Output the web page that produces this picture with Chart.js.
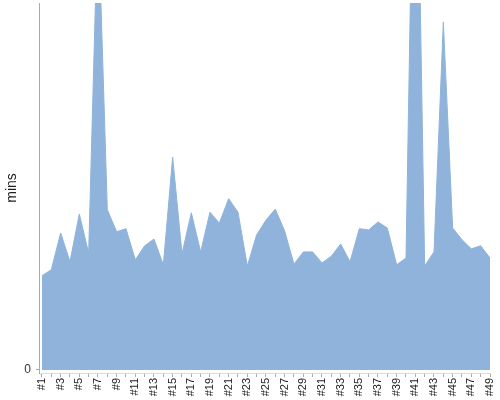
<!DOCTYPE html>
<html>
<head>
<meta charset="utf-8">
<script src="https://cdn.jsdelivr.net/npm/chart.js@4/dist/chart.umd.min.js"></script>
<style>
  html, body { margin: 0; padding: 0; background: #fff; }
  #wrap { width: 500px; height: 400px; }
</style>
</head>
<body>
<div id="wrap"><canvas id="chart" width="500" height="400"></canvas></div>
<script>
const runLabels = [];
for (let i = 1; i <= 49; i++) runLabels.push('#' + i);

// minutes per run (two spikes go past the top)
const mins = [
  15.4, 16.4, 22.4, 17.7, 25.5, 19.1, 75.5, 26.2, 22.6, 23.1,
  18.0, 20.3, 21.4, 17.2, 34.8, 19.0, 25.7, 19.3, 25.8, 24.0,
  28.0, 25.8, 17.0, 22.1, 24.5, 26.3, 22.7, 17.3, 19.3, 19.3,
  17.5, 18.6, 20.6, 17.7, 23.1, 22.9, 24.2, 23.2, 17.2, 18.3,
  108.5, 17.0, 19.3, 56.9, 23.2, 21.3, 19.8, 20.3, 18.3,
];
const yTicks = [0];
const yMax = 60;

const fillColor = '#8fb3da';
const textFont = "'Liberation Sans', Arial, sans-serif";

new Chart(document.getElementById('chart'), {
  type: 'line',
  data: {
    datasets: [
      {
        data: mins.map((v, i) => ({ x: i + 1, y: v })),
        fill: 'origin',
        backgroundColor: fillColor,
        borderColor: fillColor,
        borderWidth: 1,
        pointRadius: 0,
        tension: 0,
      },
    ],
  },
  options: {
    responsive: false,
    animation: false,
    layout: { padding: { top: 3, right: 10, left: 0, bottom: 0 } },
    plugins: {
      legend: { display: false },
      tooltip: { enabled: false },
    },
    scales: {
      x: {
        type: 'linear',
        min: 0.68,
        max: runLabels.length,
        afterBuildTicks: (axis) => {
          axis.ticks = runLabels.map((l, i) => ({ value: i + 1 }));
        },
        afterFit: (axis) => {
          axis.height = 27;
          axis.paddingLeft = 0;
          axis.paddingRight = 0;
        },
        grid: { drawOnChartArea: false, drawTicks: true, tickLength: 4, color: '#aaa' },
        border: { display: true, color: '#ddd' },
        ticks: {
          autoSkip: false,
          maxRotation: 90,
          minRotation: 90,
          padding: 1,
          color: '#222',
          font: { family: textFont, size: 11 },
          callback: (v) => (v % 2 === 1 ? runLabels[v - 1] : ''),
        },
      },
      y: {
        min: -0.5,
        max: yMax,
        afterBuildTicks: (axis) => {
          axis.ticks = yTicks.map((v) => ({ value: v }));
        },
        afterFit: (axis) => {
          axis.width = 39;
          axis.paddingTop = 0;
          axis.paddingBottom = 0;
        },
        grid: { drawOnChartArea: false, drawTicks: true, tickLength: 3, color: '#aaa' },
        border: { display: true, color: '#aaa' },
        title: {
          display: true,
          text: 'mins',
          color: '#222',
          font: { family: textFont, size: 14 },
          padding: { top: 4, bottom: 4 },
        },
        ticks: {
          padding: 5,
          color: '#333',
          font: { family: textFont, size: 12 },
        },
      },
    },
  },
});
</script>
</body>
</html>
